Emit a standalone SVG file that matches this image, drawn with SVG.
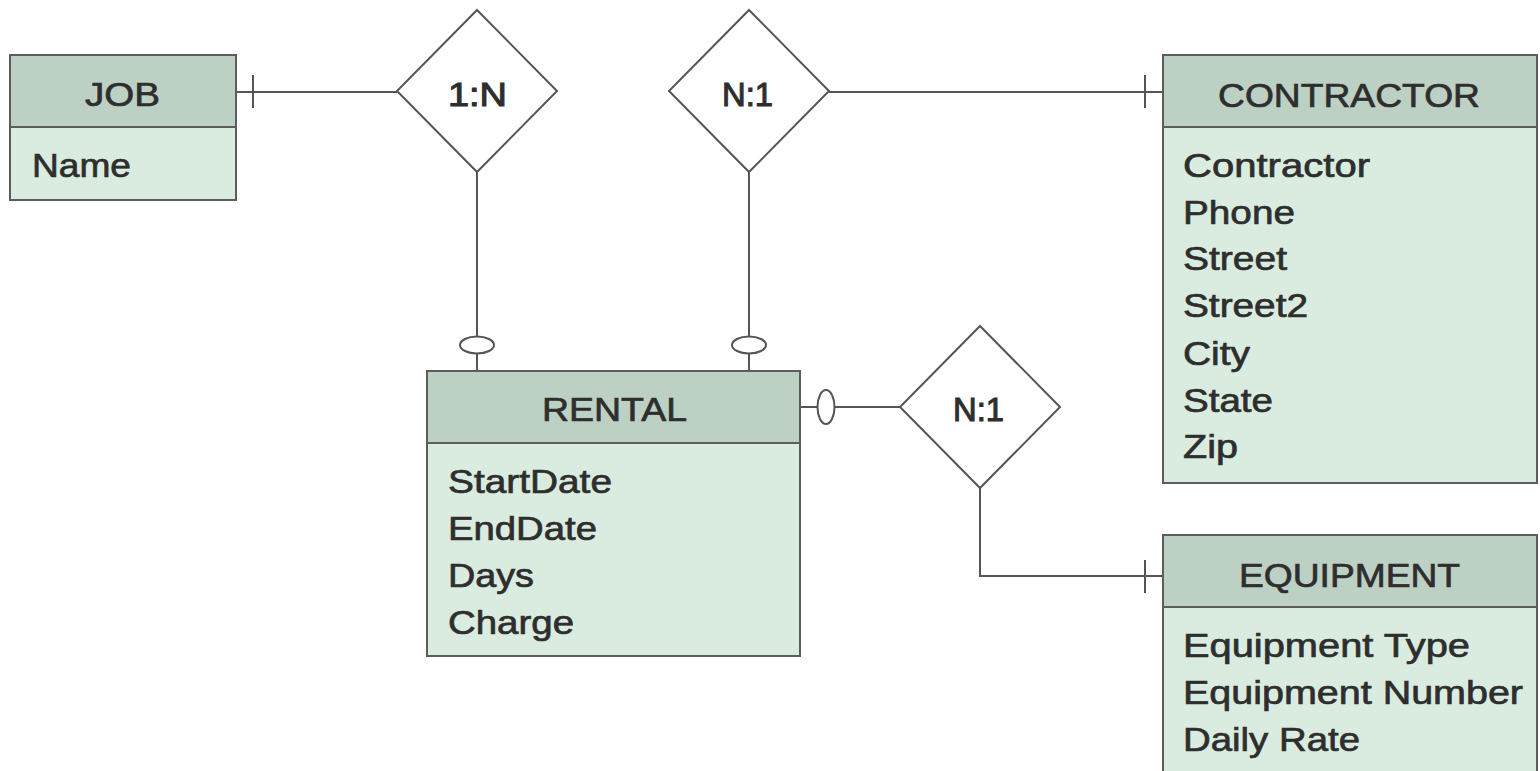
<svg xmlns="http://www.w3.org/2000/svg" width="1540" height="771" viewBox="0 0 1540 771">
  <style>
    .hdr { fill: #bdd0c4; stroke: #5c5c5c; stroke-width: 2; }
    .body { fill: #d9ecdf; stroke: #5c5c5c; stroke-width: 2; }
    .rel { fill: #ffffff; stroke: #555555; stroke-width: 2; }
    .ln { fill: none; stroke: #555555; stroke-width: 2; }
    .opt { fill: #ffffff; stroke: #555555; stroke-width: 2; }
    text { font-family: "Liberation Sans", Arial, Helvetica, sans-serif; font-size: 34px; fill: #2e2e2e; stroke: #2e2e2e; stroke-width: 0.7; }
    .lbl { stroke-width: 1.1; }
  </style>
  <rect width="1540" height="771" fill="#ffffff"/>

  <!-- connectors -->
  <g id="connectors">
    <!-- JOB to 1:N -->
    <line class="ln" x1="236" y1="92" x2="397" y2="92"/>
    <line class="ln" x1="253" y1="75" x2="253" y2="108"/>
    <!-- 1:N to RENTAL -->
    <line class="ln" x1="477" y1="172" x2="477" y2="371"/>
    <ellipse class="opt" cx="477" cy="345" rx="17" ry="8.5"/>
    <!-- N:1 to CONTRACTOR -->
    <line class="ln" x1="829" y1="92" x2="1163" y2="92"/>
    <line class="ln" x1="1145" y1="75" x2="1145" y2="108"/>
    <!-- N:1 to RENTAL -->
    <line class="ln" x1="749" y1="172" x2="749" y2="371"/>
    <ellipse class="opt" cx="749" cy="345" rx="17" ry="8.5"/>
    <!-- RENTAL to lower N:1 -->
    <line class="ln" x1="800" y1="407" x2="900" y2="407"/>
    <ellipse class="opt" cx="826" cy="407" rx="8.5" ry="17"/>
    <!-- lower N:1 to EQUIPMENT -->
    <polyline class="ln" points="980,488 980,576 1163,576"/>
    <line class="ln" x1="1145" y1="560" x2="1145" y2="593"/>
  </g>

  <!-- relationships -->
  <g id="rel-job-rental">
    <polygon class="rel" points="477,10 557,91 477,172 397,91"/>
    <text class="lbl" x="448" y="106" textLength="59" lengthAdjust="spacingAndGlyphs">1:N</text>
  </g>
  <g id="rel-rental-contractor">
    <polygon class="rel" points="749,10 829,91 749,172 669,91"/>
    <text class="lbl" x="722" y="106" textLength="51" lengthAdjust="spacingAndGlyphs">N:1</text>
  </g>
  <g id="rel-rental-equipment">
    <polygon class="rel" points="980,326 1060,407 980,488 900,407"/>
    <text class="lbl" x="953" y="421" textLength="51" lengthAdjust="spacingAndGlyphs">N:1</text>
  </g>

  <!-- entities -->
  <g id="job">
    <rect class="body" x="10" y="127" width="226" height="73"/>
    <rect class="hdr" x="10" y="55" width="226" height="72"/>
    <text x="85" y="106" textLength="75" lengthAdjust="spacingAndGlyphs">JOB</text>
    <text x="32" y="177" textLength="99" lengthAdjust="spacingAndGlyphs">Name</text>
  </g>

  <g id="contractor">
    <rect class="body" x="1163" y="127" width="374" height="356"/>
    <rect class="hdr" x="1163" y="55" width="374" height="72"/>
    <text x="1218" y="107" textLength="262" lengthAdjust="spacingAndGlyphs">CONTRACTOR</text>
    <text x="1183" y="177" textLength="187" lengthAdjust="spacingAndGlyphs">Contractor</text>
    <text x="1183" y="224" textLength="112" lengthAdjust="spacingAndGlyphs">Phone</text>
    <text x="1183" y="270" textLength="104" lengthAdjust="spacingAndGlyphs">Street</text>
    <text x="1183" y="317" textLength="125" lengthAdjust="spacingAndGlyphs">Street2</text>
    <text x="1183" y="365" textLength="67" lengthAdjust="spacingAndGlyphs">City</text>
    <text x="1183" y="412" textLength="90" lengthAdjust="spacingAndGlyphs">State</text>
    <text x="1183" y="458" textLength="55" lengthAdjust="spacingAndGlyphs">Zip</text>
  </g>

  <g id="rental">
    <rect class="body" x="427" y="443" width="373" height="213"/>
    <rect class="hdr" x="427" y="371" width="373" height="72"/>
    <text x="542" y="421" textLength="145" lengthAdjust="spacingAndGlyphs">RENTAL</text>
    <text x="448" y="493" textLength="164" lengthAdjust="spacingAndGlyphs">StartDate</text>
    <text x="448" y="540" textLength="149" lengthAdjust="spacingAndGlyphs">EndDate</text>
    <text x="448" y="587" textLength="86" lengthAdjust="spacingAndGlyphs">Days</text>
    <text x="448" y="634" textLength="126" lengthAdjust="spacingAndGlyphs">Charge</text>
  </g>

  <g id="equipment">
    <rect class="body" x="1163" y="607" width="374" height="180"/>
    <rect class="hdr" x="1163" y="535" width="374" height="72"/>
    <text x="1239" y="587" textLength="221" lengthAdjust="spacingAndGlyphs">EQUIPMENT</text>
    <text x="1183" y="657" textLength="287" lengthAdjust="spacingAndGlyphs">Equipment Type</text>
    <text x="1183" y="704" textLength="340" lengthAdjust="spacingAndGlyphs">Equipment Number</text>
    <text x="1183" y="751" textLength="177" lengthAdjust="spacingAndGlyphs">Daily Rate</text>
  </g>
</svg>
